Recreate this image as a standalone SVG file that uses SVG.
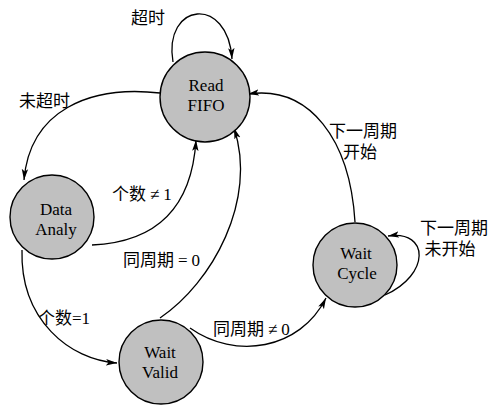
<svg xmlns="http://www.w3.org/2000/svg" width="504" height="405" viewBox="0 0 504 405">
<style>
.node circle{fill:#c0c0c0;stroke:#000;stroke-width:1.4}
.nt{font-family:"Liberation Serif","Noto Sans CJK SC",serif;font-size:17px;text-anchor:middle;fill:#000}
.lb{font-family:"Liberation Serif","Noto Sans CJK SC",serif;font-size:17px;fill:#000}
.edge{fill:none;stroke:#000;stroke-width:1.3;marker-end:url(#arr)}
</style>
<defs>
<marker id="arr" markerUnits="userSpaceOnUse" markerWidth="12" markerHeight="8" refX="11" refY="4" orient="auto">
<path d="M0,0.8 L11,4 L0,7.2 L2.5,4 Z" fill="#000"/>
</marker>
</defs>
<rect width="504" height="405" fill="#fff"/>
<g id="connectors">
<path class="edge" d="M173,62 C163,2 228,-5 232,59"/>
<path class="edge" d="M160,93 C90,85 30,110 24,180"/>
<path class="edge" d="M92,245 C160,242 192,205 196,140"/>
<path class="edge" d="M22,250 C20,320 70,360 117,363"/>
<path class="edge" d="M160,318 C212,283 258,200 234,128"/>
<path class="edge" d="M190,328 C235,360 300,350 326,298"/>
<path class="edge" d="M355,222 C350,140 310,85 248,94"/>
<path class="edge" d="M385,295 C430,275 430,230 388,236"/>
</g>
<g id="labels">
<text class="lb" x="131" y="24">超时</text>
<text class="lb" x="19" y="107">未超时</text>
<text class="lb" x="112" y="200">个数<tspan dx="4">≠</tspan><tspan dx="4">1</tspan></text>
<text class="lb" x="123" y="266">同周期<tspan dx="4">=</tspan><tspan dx="4">0</tspan></text>
<text class="lb" x="38" y="324">个数=1</text>
<text class="lb" x="213" y="335">同周期<tspan dx="4">≠</tspan><tspan dx="4">0</tspan></text>
<text class="lb" x="363" y="137" text-anchor="middle">下一周期</text>
<text class="lb" x="360" y="158" text-anchor="middle">开始</text>
<text class="lb" x="454" y="234" text-anchor="middle">下一周期</text>
<text class="lb" x="450" y="255" text-anchor="middle">未开始</text>
</g>
<g id="read-fifo" class="node">
<circle cx="205" cy="97" r="45"/>
<text class="nt" x="206" y="91">Read</text>
<text class="nt" x="206" y="111">FIFO</text>
</g>
<g id="data-analy" class="node">
<circle cx="52" cy="217" r="42"/>
<text class="nt" x="56" y="215">Data</text>
<text class="nt" x="56" y="235">Analy</text>
</g>
<g id="wait-valid" class="node">
<circle cx="161" cy="362" r="42"/>
<text class="nt" x="160" y="358">Wait</text>
<text class="nt" x="160" y="378">Valid</text>
</g>
<g id="wait-cycle" class="node">
<circle cx="355" cy="265" r="42"/>
<text class="nt" x="356" y="259">Wait</text>
<text class="nt" x="357" y="279">Cycle</text>
</g>
</svg>
